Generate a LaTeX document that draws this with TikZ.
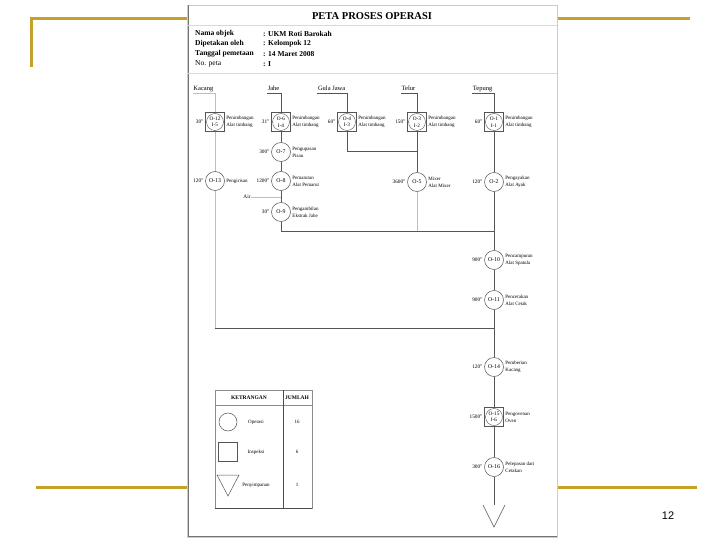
\documentclass[tikz,border=0pt]{standalone}
\usepackage{fontspec}
\setmainfont{Liberation Serif}
\setsansfont{Liberation Sans}
\usetikzlibrary{positioning}
\definecolor{slidegold}{RGB}{196,162,40}
\definecolor{flowgray}{RGB}{85,85,85}
\definecolor{faintgray}{RGB}{190,190,190}

\begin{document}
\begin{tikzpicture}[x=1pt,y=-1pt,node distance=1pt,
  flow/.style={draw=flowgray,line width=0.6pt},
  faint/.style={draw=faintgray,line width=0.6pt},
  gold/.style={draw=slidegold,line width=3pt},
  opr/.style={draw=flowgray,line width=0.5pt,circle,minimum size=19pt,inner sep=0pt,
              font=\fontsize{5.8}{6}\selectfont},
  insp/.style={draw=flowgray,line width=0.5pt,minimum size=19pt,inner sep=0pt,align=center,
               font=\fontsize{5.3}{6.5}\selectfont,
               path picture={\draw[flowgray,line width=0.4pt]
                 (path picture bounding box.center) circle (8.5pt);}},
  desc/.style={align=left,inner sep=0.5pt,font=\fontsize{5}{7}\selectfont},
  tm/.style={inner sep=0.5pt,font=\fontsize{5.3}{6}\selectfont},
  colhead/.style={anchor=base east,inner sep=0.5pt,font=\fontsize{6.5}{7}\selectfont},
  hdr/.style={anchor=west,inner sep=0pt,font=\fontsize{7.5}{8}\selectfont},
  lgd/.style={inner sep=0pt,font=\fontsize{5}{6}\selectfont}]
\fill[white] (0,0) rectangle (720,540);
\useasboundingbox (0,0) rectangle (720,540);

% slide frame
\draw[gold] (31,67) -- (31,19) -- (190,19);
\draw[gold] (555,19) -- (690,19);
\draw[gold] (36,487) -- (192,487);
\draw[gold] (553,487) -- (697,487);
\node[font=\sffamily\fontsize{11}{12}\selectfont] (pageno) at (668,516) {12};

% page
\filldraw[fill=white,draw=black!20] (187,5) rectangle (557,537);
\draw[black!55,line width=0.8pt] (188,5) -- (188,536) -- (557,536);
\draw[black!15] (187,25) -- (557,25);
\draw[black!15] (187,73) -- (557,73);
\node[font=\fontsize{10.5}{11}\selectfont\bfseries] (title) at (372,16) {PETA PROSES OPERASI};
\foreach \k/\v [count=\i] in {{\bfseries Nama objek}/UKM Roti Barokah,
    {\bfseries Dipetakan oleh}/Kelompok 12,
    {\bfseries Tanggal pemetaan}/14 Maret 2008,
    {No. peta}/I}{
  \node[hdr] (key\i) at (195,24+10*\i) {\k};
  \node[hdr] (val\i) at (263,24+10*\i) {\bfseries : \v};
}

% column heads
\node[colhead] (hkacang) at (214,91) {Kacang};
\node[colhead] (hjahe) at (280,91) {Jahe};
\node[colhead] (hgula) at (346,91) {Gula Jawa};
\node[colhead] (htelur) at (416,91) {Telur};
\node[colhead] (htepung) at (493,91) {Tepung};
\foreach \h in {hkacang,hjahe,hgula,htelur,htepung}
  \coordinate (\h-u) at ([yshift=-2.5pt]\h.base west);

% Kacang
\node[insp] (i5) at (215,122) {O-12\\I-5};
\node[opr] (o13) at (215,181) {O-13};
\node[tm,left=of i5] (t-i5) {30''};
\node[desc,right=of i5] (d-i5) {Penimbangan\\Alat timbang};
\node[tm,left=of o13] (t-o13) {120''};
\node[desc,right=of o13] (d-o13) {Pengirisan};

% Jahe
\node[insp] (i4) at (281,122) {O-6\\I-4};
\node[opr] (o7) at (281,152) {O-7};
\node[opr] (o8) at (281,181) {O-8};
\node[opr] (o9) at (281,212) {O-9};
\node[tm,left=of i4] (t-i4) {31''};
\node[desc,right=of i4] (d-i4) {Penimbangan\\Alat timbang};
\node[tm,left=of o7] (t-o7) {300''};
\node[desc,right=of o7] (d-o7) {Pengupasan\\Pisau};
\node[tm,left=of o8] (t-o8) {1200''};
\node[desc,right=of o8] (d-o8) {Pemarutan\\Alat Pemarut};
\node[tm,left=of o9] (t-o9) {30''};
\node[desc,right=of o9] (d-o9) {Pengambilan\\Ekstrak Jahe};
\node[tm] (air) at (247,197) {Air};
\coordinate (airin) at (281,197);

% Gula Jawa
\node[insp] (i3) at (347,122) {O-4\\I-3};
\node[tm,left=of i3] (t-i3) {60''};
\node[desc,right=of i3] (d-i3) {Penimbangan\\Alat timbang};

% Telur
\node[insp] (i2) at (417,122) {O-3\\I-2};
\node[opr] (o5) at (417,182) {O-5};
\node[tm,left=of i2] (t-i2) {150''};
\node[desc,right=of i2] (d-i2) {Penimbangan\\Alat timbang};
\node[tm,left=of o5] (t-o5) {3600''};
\node[desc,right=of o5] (d-o5) {Mixer\\Alat Mixer};

% Tepung
\node[insp] (i1) at (494,122) {O-1\\I-1};
\node[opr] (o2) at (494,182) {O-2};
\node[opr] (o10) at (494,260) {O-10};
\node[opr] (o11) at (494,300) {O-11};
\node[opr] (o14) at (494,367) {O-14};
\node[insp] (i6) at (494,417) {O-15\\I-6};
\node[opr] (o16) at (494,467) {O-16};
\coordinate (store) at (494,505);
\node[tm,left=of i1] (t-i1) {60''};
\node[desc,right=of i1] (d-i1) {Penimbangan\\Alat timbang};
\node[tm,left=of o2] (t-o2) {120''};
\node[desc,right=of o2] (d-o2) {Pengayakan\\Alat Ayak};
\node[tm,left=of o10] (t-o10) {900''};
\node[desc,right=of o10] (d-o10) {Pencampuran\\Alat Spatula};
\node[tm,left=of o11] (t-o11) {900''};
\node[desc,right=of o11] (d-o11) {Pencetakan\\Alat Cetak};
\node[tm,left=of o14] (t-o14) {120''};
\node[desc,right=of o14] (d-o14) {Pemberian\\Kacang};
\node[tm,left=of i6] (t-i6) {1500''};
\node[desc,right=of i6] (d-i6) {Pengovenan\\Oven};
\node[tm,left=of o16] (t-o16) {300''};
\node[desc,right=of o16] (d-o16) {Pelepasan dari\\Cetakan};

% junctions
\coordinate (ja) at (494,231);
\coordinate (jb) at (494,328);
\coordinate (kb) at (215,328);
\coordinate (gt) at (417,151);
\coordinate (ta) at (417,231);

% flow lines
\draw[faint] (hkacang-u) -| (i5);
\draw[faint] (i5) -- (o13);
\draw[faint] (o13) -- (kb);
\draw[flow] (kb) -- (jb);
\draw[flow] (hjahe-u) -| (i4);
\draw[flow] (i4) -- (o7);
\draw[flow] (o7) -- (o8);
\draw[flow] (o8) -- (o9);
\draw[flow] (o9) |- (ja);
\draw[faint] (air) -- (airin);
\draw[flow] (hgula-u) -| (i3);
\draw[flow] (i3) |- (gt);
\draw[flow] (htelur-u) -| (i2);
\draw[flow] (i2) -- (o5);
\draw[faint] (o5) -- (ta);
\draw[flow] (htepung-u) -| (i1);
\draw[flow] (i1) -- (o2);
\draw[flow] (o2) -- (o10);
\draw[flow] (o10) -- (o11);
\draw[flow] (o11) -- (o14);
\draw[flow] (o14) -- (i6);
\draw[flow] (i6) -- (o16);
\draw[flow] (o16) -- (store);
\draw[flowgray,line width=0.5pt] (483,505) -- (494,527) -- (505,505);

% legend
\draw[black!45] (215,390) rectangle (312,508);
\draw[black!45] (215,405) -- (312,405);
\draw[black!70,line width=0.9pt] (283,390) -- (283,508);
\draw[black!70,line width=0.9pt] (215,508) -- (312,508);
\node[lgd,font=\fontsize{5.5}{6}\selectfont\bfseries] (lket) at (249,398) {KETRANGAN};
\node[lgd,font=\fontsize{5.5}{6}\selectfont\bfseries] (ljml) at (297,398) {JUMLAH};
\node[opr,minimum size=18pt] (lopr) at (228,422) {};
\node[draw=flowgray,line width=0.5pt,minimum size=19pt] (lins) at (228,452) {};
\draw[flowgray,line width=0.5pt] (217,475) -- (239,475) -- (228,496) -- cycle;
\foreach \ly/\lt/\ln [count=\j] in {422/Operasi/16,452/Inspeksi/6,485/Penyimpanan/1}{
  \node[lgd] (lt\j) at (256,\ly) {\lt};
  \node[lgd] (ln\j) at (297,\ly) {\ln};
}
\end{tikzpicture}
\end{document}
